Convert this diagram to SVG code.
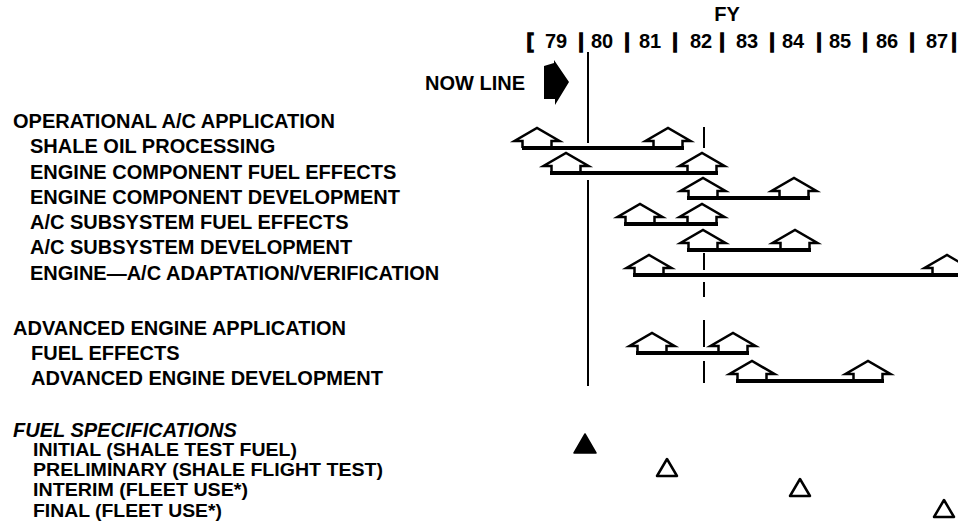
<svg xmlns="http://www.w3.org/2000/svg" xmlns:xlink="http://www.w3.org/1999/xlink" width="958" height="526" viewBox="0 0 958 526">
<style>
  .lbl { font-family: "Liberation Sans", Arial, sans-serif; font-weight: bold; font-size: 20px; fill: #000; }
  .sm { font-size: 17.5px; }
  .it { font-style: italic; }
  .hdr { font-family: "Liberation Sans", Arial, sans-serif; font-weight: bold; font-size: 20px; fill: #000; text-anchor: middle; }
  .sep { stroke: #000; stroke-width: 1.3; }
  .bar { stroke: #000; stroke-width: 4; fill: none; }
  .vl { stroke: #000; stroke-width: 2; fill: none; }
  .tri { fill: #fff; stroke: #000; stroke-width: 2.5; stroke-linejoin: round; }
</style>
<defs>
  <path id="house" d="M -14.5 0 L -14.5 -7 L -22.5 -7 L 0 -20 L 22.5 -7 L 14.5 -7 L 14.5 0" fill="#fff" stroke="#000" stroke-width="2.5" stroke-linejoin="miter"/>
</defs>
<rect width="958" height="526" fill="#fff"/>

<g id="header">
  <text class="hdr" x="727" y="21">FY</text>
  <text class="hdr sep" x="530" y="48">[</text>
  <text class="hdr" x="556" y="48">79</text>
  <text class="hdr sep" x="581" y="48">|</text>
  <text class="hdr" x="602" y="48">80</text>
  <text class="hdr sep" x="627" y="48">|</text>
  <text class="hdr" x="650" y="48">81</text>
  <text class="hdr sep" x="675" y="48">|</text>
  <text class="hdr" x="701" y="48">82</text>
  <text class="hdr sep" x="722" y="48">|</text>
  <text class="hdr" x="747" y="48">83</text>
  <text class="hdr sep" x="772" y="48">|</text>
  <text class="hdr" x="793" y="48">84</text>
  <text class="hdr sep" x="819" y="48">|</text>
  <text class="hdr" x="840" y="48">85</text>
  <text class="hdr sep" x="865" y="48">|</text>
  <text class="hdr" x="887" y="48">86</text>
  <text class="hdr sep" x="912" y="48">|</text>
  <text class="hdr" x="937" y="48">87</text>
  <text class="hdr sep" x="954" y="48">|</text>
</g>

<g id="now-line">
  <text class="lbl" x="425" y="90">NOW LINE</text>
  <path d="M 544 66 L 554 63 L 554 60 L 569 82 L 555 105 L 555 99 L 544 99 Z" fill="#000"/>
</g>

<g id="labels">
  <text class="lbl" x="13" y="128">OPERATIONAL A/C APPLICATION</text>
  <text class="lbl" x="30" y="153">SHALE OIL PROCESSING</text>
  <text class="lbl" x="30" y="179">ENGINE COMPONENT FUEL EFFECTS</text>
  <text class="lbl" x="30" y="204">ENGINE COMPONENT DEVELOPMENT</text>
  <text class="lbl" x="30" y="229">A/C SUBSYSTEM FUEL EFFECTS</text>
  <text class="lbl" x="30" y="254">A/C SUBSYSTEM DEVELOPMENT</text>
  <text class="lbl" x="30" y="280">ENGINE—A/C ADAPTATION/VERIFICATION</text>
  <text class="lbl" x="13" y="335">ADVANCED ENGINE APPLICATION</text>
  <text class="lbl" x="31" y="360">FUEL EFFECTS</text>
  <text class="lbl" x="31" y="385">ADVANCED ENGINE DEVELOPMENT</text>
  <text class="lbl it" x="13" y="437">FUEL SPECIFICATIONS</text>
  <text class="lbl sm" x="33" y="456" textLength="264" lengthAdjust="spacingAndGlyphs">INITIAL (SHALE TEST FUEL)</text>
  <text class="lbl sm" x="33" y="476" textLength="350" lengthAdjust="spacingAndGlyphs">PRELIMINARY (SHALE FLIGHT TEST)</text>
  <text class="lbl sm" x="33" y="496" textLength="215" lengthAdjust="spacingAndGlyphs">INTERIM (FLEET USE*)</text>
  <text class="lbl sm" x="33" y="517" textLength="189" lengthAdjust="spacingAndGlyphs">FINAL (FLEET USE*)</text>
</g>

<g id="reference-lines">
  <path class="vl" d="M 588 52 V 143 M 588 180 V 386"/>
  <path class="vl" d="M 704 127 V 148 M 704 253 V 270 M 704 282 V 297 M 704 320 V 347 M 704 361 V 383"/>
</g>

<g id="milestones">
  <use xlink:href="#house" x="537" y="148"/>
  <use xlink:href="#house" x="668" y="148"/>
  <use xlink:href="#house" x="566" y="173"/>
  <use xlink:href="#house" x="702" y="173"/>
  <use xlink:href="#house" x="703" y="198"/>
  <use xlink:href="#house" x="794" y="198"/>
  <use xlink:href="#house" x="640" y="224"/>
  <use xlink:href="#house" x="702" y="224"/>
  <use xlink:href="#house" x="703" y="250"/>
  <use xlink:href="#house" x="795" y="250"/>
  <use xlink:href="#house" x="649" y="275"/>
  <use xlink:href="#house" x="947" y="275"/>
  <use xlink:href="#house" x="652" y="353"/>
  <use xlink:href="#house" x="733" y="353"/>
  <use xlink:href="#house" x="752" y="381"/>
  <use xlink:href="#house" x="868" y="381"/>
</g>

<g id="connectors">
  <path class="bar" d="M 522 148 H 684"/>
  <path class="bar" d="M 550 173 H 718"/>
  <path class="bar" d="M 687 198 H 810"/>
  <path class="bar" d="M 624 224 H 718"/>
  <path class="bar" d="M 687 250 H 811"/>
  <path class="bar" d="M 633 275 H 958"/>
  <path class="bar" d="M 636 353 H 749"/>
  <path class="bar" d="M 736 381 H 884"/>
</g>

<g id="spec-markers">
  <polygon points="585,434 596,453 574,453" fill="#000" stroke="#000" stroke-width="1.5" stroke-linejoin="round"/>
  <polygon class="tri" points="667,459 677,476 657,476"/>
  <polygon class="tri" points="800,479 810,496 790,496"/>
  <polygon class="tri" points="944,500 954,517 934,517"/>
</g>
</svg>
